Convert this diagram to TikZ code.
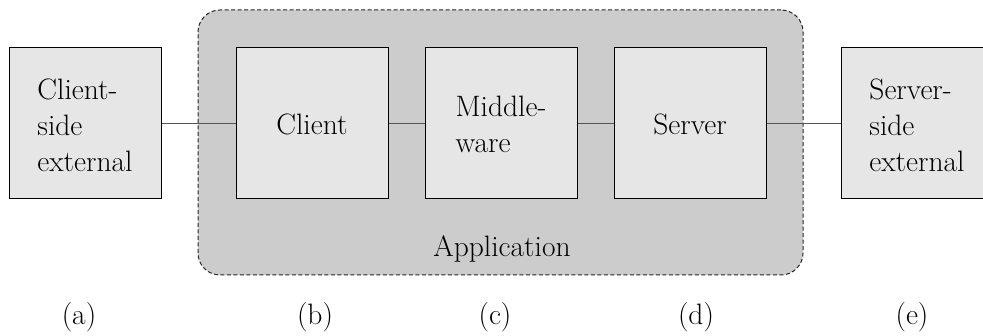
\documentclass[tikz,border=0pt]{standalone}
\begin{document}
\begin{tikzpicture}[x=1pt,y=-1pt,
  txt/.style={font=\fontsize{29.5}{36}\selectfont, inner sep=0pt},
  part/.style={draw=black, line width=1pt, fill=partfill,
    minimum width=152pt, minimum height=151pt, inner sep=0pt},
  link/.style={draw=linkgray, line width=1pt},
  tag/.style={txt, anchor=base}]
\definecolor{partfill}{HTML}{E6E6E6}
\definecolor{appfill}{HTML}{CCCCCC}
\definecolor{linkgray}{HTML}{555555}
\newcommand{\lines}[1]{\begin{tabular}[t]{@{}l@{}}#1\end{tabular}}
\clip (0,0) rectangle (983,336);
\fill[white] (0,0) rectangle (983,336);

% application container
\node[draw=black!85, fill=appfill, line width=1pt, rounded corners=22pt,
      dash pattern=on 4pt off 2.5pt, inner sep=0pt,
      minimum width=605pt, minimum height=265pt] (app) at (500.5,142.5) {};
\node[tag] (applabel) at (502,257) {Application};

% component boxes
\node[part] (cext) at (85,123.5) {};
\node[part] (client) at (312,123.5) {};
\node[part] (mid) at (501,123.5) {};
\node[part] (server) at (690,123.5) {};
\node[part] (sext) at (917,123.5) {};

% box texts
\node[tag] (cextt) at (85,100) {\lines{Client-\\side\\external}};
\node[tag] (clientt) at (312,135) {Client};
\node[tag] (midt) at (501,117) {\lines{Middle-\\ware}};
\node[tag] (servert) at (690,135) {Server};
\node[tag] (sextt) at (917,100) {\lines{Server-\\side\\external}};

% connections
\draw[link] (cext.east) -- (client.west);
\draw[link] (client.east) -- (mid.west);
\draw[link] (mid.east) -- (server.west);
\draw[link] (server.east) -- (sext.west);

% captions
\node[tag] (la) at (79,325) {(a)};
\node[tag] (lb) at (315,325) {(b)};
\node[tag] (lc) at (495,325) {(c)};
\node[tag] (ld) at (696,325) {(d)};
\node[tag] (le) at (912,325) {(e)};
\end{tikzpicture}
\end{document}
